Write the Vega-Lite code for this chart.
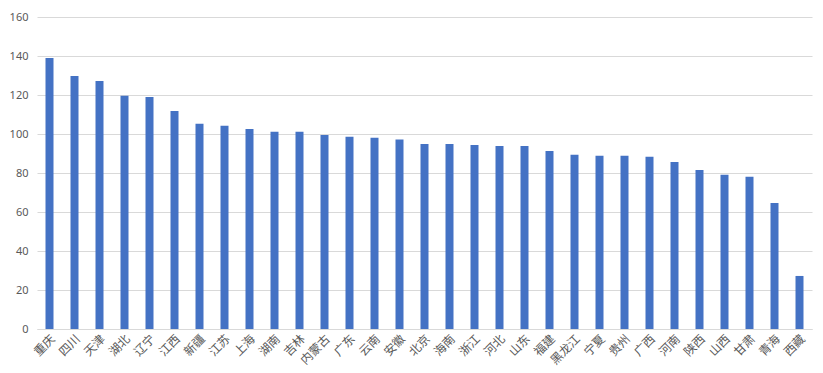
{
  "$schema": "https://vega.github.io/schema/vega-lite/v6.json",
  "width": 775,
  "height": 312,
  "autosize": {"type": "none"},
  "padding": {"left": 37, "top": 17, "right": 11, "bottom": 44},
  "background": "white",
  "data": {"values": [
    {"p": "重庆", "v": 139},
    {"p": "四川", "v": 129.7},
    {"p": "天津", "v": 127.2},
    {"p": "湖北", "v": 119.6},
    {"p": "辽宁", "v": 119},
    {"p": "江西", "v": 111.8},
    {"p": "新疆", "v": 105.2},
    {"p": "江苏", "v": 104.2},
    {"p": "上海", "v": 102.6},
    {"p": "湖南", "v": 101.1},
    {"p": "吉林", "v": 101.1},
    {"p": "内蒙古", "v": 99.5},
    {"p": "广东", "v": 98.6},
    {"p": "云南", "v": 98.1},
    {"p": "安徽", "v": 97.2},
    {"p": "北京", "v": 94.9},
    {"p": "海南", "v": 94.9},
    {"p": "浙江", "v": 94.4},
    {"p": "河北", "v": 93.9},
    {"p": "山东", "v": 93.9},
    {"p": "福建", "v": 91.3},
    {"p": "黑龙江", "v": 89.3},
    {"p": "宁夏", "v": 88.8},
    {"p": "贵州", "v": 88.8},
    {"p": "广西", "v": 88.3},
    {"p": "河南", "v": 85.7},
    {"p": "陕西", "v": 81.6},
    {"p": "山西", "v": 79.1},
    {"p": "甘肃", "v": 78.1},
    {"p": "青海", "v": 64.6},
    {"p": "西藏", "v": 27.2}
  ]},
  "mark": {"type": "bar", "color": "#4472C4"},
  "encoding": {
    "x": {
      "field": "p", "type": "nominal", "sort": null,
      "scale": {"paddingInner": 0.68, "paddingOuter": 0.34},
      "axis": {
        "title": null, "labelAngle": -45, "labelFont": "Noto Sans CJK SC",
        "labelFontSize": 12, "labelColor": "#595959", "ticks": false,
        "domainColor": "#d9d9d9", "labelPadding": 4
      }
    },
    "y": {
      "field": "v", "type": "quantitative",
      "scale": {"domain": [0, 160], "nice": false},
      "axis": {
        "title": null, "values": [0, 20, 40, 60, 80, 100, 120, 140, 160],
        "domain": false, "ticks": false, "gridColor": "#d9d9d9",
        "labelFont": "Noto Sans", "labelFontSize": 11, "labelColor": "#595959",
        "labelPadding": 9
      }
    }
  },
  "config": {"view": {"stroke": null}}
}
